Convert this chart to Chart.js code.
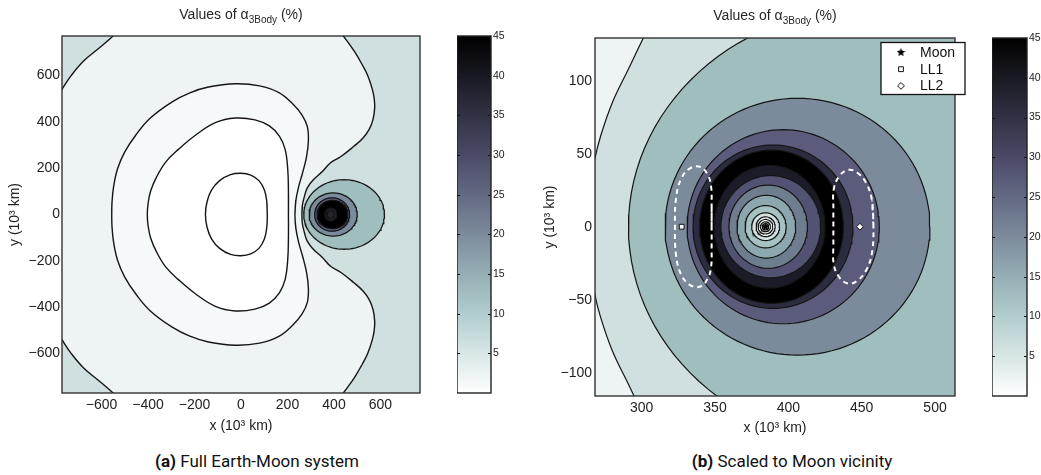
<!DOCTYPE html>
<html>
<head>
<meta charset="utf-8">
<script src="https://cdn.jsdelivr.net/npm/chart.js@4.4.0/dist/chart.umd.min.js"></script>
<style>
  html, body { margin: 0; padding: 0; background: #fff; width: 1041px; height: 475px; overflow: hidden; }
  body { position: relative; }
  canvas { position: absolute; top: 0; }
  .title { position: absolute; font-family: "Liberation Sans", Arial, sans-serif; font-size: 14px; line-height: 16px;
           color: #262626; white-space: nowrap; transform: translateX(-50%); }
  .title sub { font-size: 10px; vertical-align: -4px; line-height: 0; }
  .caption { position: absolute; font-family: Roboto, "Noto Sans", sans-serif; font-size: 17px; line-height: 17px;
             color: #111; white-space: nowrap; transform: translateX(-50%); }
</style>
</head>
<body>
<canvas id="systemMap" width="440" height="440" style="left:0px"></canvas>
<canvas id="systemBar" width="60" height="440" style="left:457px"></canvas>
<canvas id="moonMap" width="460" height="440" style="left:520px"></canvas>
<canvas id="moonBar" width="49" height="440" style="left:992px"></canvas>

<div class="title" style="left:241px;top:6px">Values of α<sub>3Body</sub> (%)</div>
<div class="title" style="left:775px;top:7px">Values of α<sub>3Body</sub> (%)</div>
<div class="caption" style="left:257px;top:453px"><b>(a)</b> Full Earth-Moon system</div>
<div class="caption" style="left:792px;top:453px"><b>(b)</b> Scaled to Moon vicinity</div>

<script>
// ---------------------------------------------------------------------------
// Tick values
const systemTicks = [-600, -400, -200, 0, 200, 400, 600];
const moonXTicks = [300, 350, 400, 450, 500];
const moonYTicks = [-100, -50, 0, 50, 100];
const barTicks = [5, 10, 15, 20, 25, 30, 35, 40, 45];

// Colour scale of alpha_3Body (%), sampled every 5 %
const barValues = [0, 5, 10, 15, 20, 25, 30, 35, 40, 45];
const barColors = ['#ffffff', '#d8e6e6', '#b1cdcd', '#95aeb5', '#7c8b9c', '#636983', '#4a4a67', '#323245', '#191922', '#000000'];

// Earth-side contours of the full system (10^3 km), upper halves, symmetric about y = 0
const earthInner = [[113, 0], [111, 55], [101, 105], [78, 145], [42, 170], [0, 178], [-45, 172], [-92, 146],
  [-127, 105], [-146, 55], [-153, 0]];
const earthMiddle = [[204, 0], [204, 100], [201, 195], [190, 280], [165, 338], [122, 382], [60, 408], [-24, 416],
  [-110, 396], [-196, 342], [-268, 282], [-324, 226], [-364, 160], [-389, 100], [-400, 45], [-403, 0]];
const earthOuter = [[232, 0], [236, 60], [248, 120], [265, 180], [282, 250], [290, 320], [285, 380], [262, 430],
  [222, 478], [163, 526], [80, 555], [-24, 564], [-140, 550], [-220, 525], [-296, 486], [-390, 416], [-453, 342],
  [-500, 270], [-531, 197], [-548, 120], [-555, 50], [-556, 0]];
const systemBoundary = [[262, 0], [264, 40], [272, 75], [285, 115], [312, 151], [350, 185], [384, 222], [430, 250],
  [484, 293], [525, 330], [552, 368], [568, 410], [575, 460], [573, 500], [565, 540], [545, 600], [522, 645],
  [490, 700], [455, 750], [432, 780], [405, 815], [370, 850], [-470, 850], [-510, 810], [-550, 770], [-610, 718],
  [-677, 662], [-730, 600], [-770, 540], [-815, 470], [-880, 300], [-900, 0]];
const systemFills = ['#ffffff', '#ffffff', '#f5f9f9', '#eef4f4'];   // inner, middle, outer, boundary
const systemBackground = '#d0e0e0';

// Moon-centred contours: [left x, right x, half height] in 10^3 km, outermost first
const moonRingsWide = [[270, 617, 150], [293, 500, 93], [317, 467, 72], [327, 460, 61]];
const moonRingsWideFills = ['#a0bebe', '#7b8b9b', '#5b5b7b', '#000000'];
const moonRingsClose = [[291, 620, 150], [316, 496.5, 88], [331, 462, 66.5], [335, 444, 56], [339.5, 437.5, 52.5],
  [349.5, 425, 42], [354, 422, 35], [359.5, 413, 28.5], [365, 405, 21.5], [370.5, 398.5, 14.5], [375, 394, 9.5],
  [378, 391, 6.8]];
const moonRingsCloseFills = ['#a0bebe', '#7b8b9b', '#5b5b7b', '#2c2c40', '#000000', '#1c1c28', '#525272', '#6e7e8e',
  '#8ca8ae', '#a6c2c2', '#d4e2e2', '#f2f6f6'];
const moonCoreRings = [[379.4, 389.4, 5], [381, 387.8, 3.4], [382.2, 386.6, 2.2]];

// Earth-side contour seen in the close view, upper half
const earthSideArc = [[262, 0], [264, 22], [268, 46], [272, 62], [280, 85], [291, 108], [302, 131], [312, 150],
  [320, 165], [150, 165], [150, 0]];
const earthSideFill = '#eef4f4';
const closeBackground = '#d0e0e0';

// Dashed orbits about the two lunar libration points, upper halves
const orbitL1 = [[347.7, 0], [347.7, 15], [347.4, 27], [345.3, 35], [340, 41], [333, 40], [327, 33], [323.5, 20], [322.7, 0]];
const orbitL2 = [[458, 0], [457, 18], [453, 30], [447, 37], [441, 39], [435, 35], [431, 26], [430.7, 12], [430.7, 0]];

// Point markers
const moonPosition = [384.4, 0];
const pointLL1 = [327.3, 0];
const pointLL2 = [448.8, 0];

// ---------------------------------------------------------------------------
const FONT = '"Liberation Sans", Arial, sans-serif';
const INK = '#222';
const LINE = '#151515';
Chart.defaults.font.family = FONT;

const signed = v => (v < 0 ? '\u2212' + Math.abs(v) : String(v));

// Close a mirrored half-outline into a loop (wrapping one extra point keeps the seam smooth)
function mirrored(half) {
  const up = half.map(([x, y]) => ({x, y}));
  const down = half.slice(1, -1).reverse().map(([x, y]) => ({x, y: -y}));
  const loop = up.concat(down);
  return loop.concat([loop[0], loop[1]]);
}

// Oval outline through the given extents
function oval([xl, xr, h]) {
  const cx = (xl + xr) / 2, a = (xr - xl) / 2, pts = [];
  for (let i = 0; i <= 120; i++) {
    const t = 2 * Math.PI * i / 120;
    pts.push({x: cx + a * Math.cos(t), y: h * Math.sin(t)});
  }
  return pts;
}

function region(points, color, width, tension) {
  return {data: points, showLine: true, fill: 'shape', backgroundColor: color, borderColor: LINE,
          borderWidth: width, pointRadius: 0, tension};
}

function outline(points, color, width, tension, dash) {
  return {data: points, showLine: true, fill: false, borderColor: color, borderWidth: width,
          pointRadius: 0, tension, borderDash: dash || []};
}

// Background and frame of a contour plot
const plotFrame = {
  id: 'plotFrame',
  beforeDatasetsDraw(chart, args, opts) {
    const {ctx, chartArea: a} = chart;
    ctx.save();
    ctx.fillStyle = opts.background;
    ctx.fillRect(a.left, a.top, a.right - a.left, a.bottom - a.top);
    ctx.restore();
  },
  afterDatasetsDraw(chart) {
    const {ctx, chartArea: a} = chart;
    ctx.save();
    ctx.strokeStyle = '#333';
    ctx.lineWidth = 1.4;
    ctx.strokeRect(a.left, a.top, a.right - a.left, a.bottom - a.top);
    ctx.restore();
  }
};

// Boxed key for the labelled marker datasets
const markerKey = {
  id: 'markerKey',
  afterDatasetsDraw(chart) {
    const {ctx, chartArea: a} = chart;
    const items = chart.data.datasets.filter(d => d.label);
    const x0 = a.right - 74, y0 = a.top + 4.5, w = 84, h = 52;
    ctx.save();
    ctx.fillStyle = '#fff';
    ctx.fillRect(x0, y0, w, h);
    ctx.strokeStyle = '#111';
    ctx.lineWidth = 1.3;
    ctx.strokeRect(x0, y0, w, h);
    ctx.font = '14px ' + FONT;
    ctx.textBaseline = 'middle';
    items.forEach((d, i) => {
      const cy = y0 + 10 + i * 16.7;
      ctx.fillStyle = d.backgroundColor;
      ctx.strokeStyle = d.borderColor;
      ctx.lineWidth = d.borderWidth;
      Chart.helpers.drawPoint(ctx, {pointStyle: d.pointStyle, radius: d.pointRadius, rotation: 0,
                                    borderWidth: d.borderWidth}, x0 + 20, cy);
      ctx.fillStyle = '#111';
      ctx.fillText(d.label, x0 + 39, cy + 0.5);
    });
    ctx.restore();
  }
};

function starMark(size) {
  const c = document.createElement('canvas');
  c.width = c.height = size;
  const g = c.getContext('2d');
  const r = size / 2, ri = r * 0.45;
  g.beginPath();
  for (let i = 0; i < 10; i++) {
    const ang = -Math.PI / 2 + i * Math.PI / 5, rr = i % 2 ? ri : r;
    g.lineTo(r + rr * Math.cos(ang), r + rr * Math.sin(ang));
  }
  g.closePath();
  g.fillStyle = '#000';
  g.fill();
  return c;
}

function contourMap(id, cfg) {
  cfg.datasets.forEach((d, i) => { d.order = -i; });
  return new Chart(document.getElementById(id), {
    type: 'scatter',
    data: {datasets: cfg.datasets},
    options: {
      responsive: false, animation: false, devicePixelRatio: 1, events: [],
      layout: {padding: {top: cfg.top, right: cfg.right, left: 0, bottom: 0}},
      elements: {point: {radius: 0}, line: {capBezierPoints: false}},
      plugins: {legend: {display: false}, tooltip: {enabled: false}, plotFrame: {background: cfg.background}},
      scales: {
        x: {
          type: 'linear', min: cfg.xRange[0], max: cfg.xRange[1],
          grid: {display: false, drawTicks: false}, border: {display: false},
          afterBuildTicks: s => { s.ticks = cfg.xTicks.map(v => ({value: v})); },
          afterFit: s => { s.height = cfg.xAxisHeight; },
          ticks: {font: {size: 14}, color: INK, padding: cfg.xTickPad, maxRotation: 0, autoSkip: false,
                  callback: signed},
          title: {display: true, text: 'x (10³ km)', font: {size: 14}, color: INK,
                  padding: {top: 0, bottom: cfg.xTitlePad}}
        },
        y: {
          type: 'linear', min: cfg.yRange[0], max: cfg.yRange[1],
          grid: {display: false, drawTicks: false}, border: {display: false},
          afterBuildTicks: s => { s.ticks = cfg.yTicks.map(v => ({value: v})); },
          afterFit: s => { s.width = cfg.yAxisWidth; },
          ticks: {font: {size: 14}, color: INK, padding: cfg.yTickPad, autoSkip: false, callback: signed},
          title: {display: true, text: 'y (10³ km)', font: {size: 14}, color: INK,
                  padding: {top: cfg.yTitlePad, bottom: 0}}
        }
      }
    },
    plugins: cfg.plugins
  });
}

// Colour bar: one floating bar spanning the scale, painted with the colour map
const barFrame = {
  id: 'barFrame',
  afterDatasetsDraw(chart) {
    const {ctx, chartArea: a, scales: {y}} = chart;
    ctx.save();
    ctx.strokeStyle = '#111';
    ctx.lineWidth = 1.2;
    barTicks.forEach(v => {
      const py = Math.round(y.getPixelForValue(v)) + 0.5;
      ctx.beginPath();
      ctx.moveTo(a.left, py); ctx.lineTo(a.left + 3, py);
      ctx.moveTo(a.right - 3, py); ctx.lineTo(a.right, py);
      ctx.stroke();
    });
    ctx.lineWidth = 1.4;
    ctx.strokeStyle = '#222';
    ctx.strokeRect(a.left, a.top, a.right - a.left, a.bottom - a.top);
    ctx.restore();
  }
};

function colorBar(id, top, bottom, axisWidth) {
  return new Chart(document.getElementById(id), {
    type: 'bar',
    data: {
      labels: [''],
      datasets: [{
        data: [[barValues[0], barValues[barValues.length - 1]]],
        barPercentage: 1, categoryPercentage: 1, borderWidth: 0, inflateAmount: 0,
        backgroundColor: ctx => {
          const chart = ctx.chart;
          if (!chart.chartArea) return barColors[0];
          const y = chart.scales.y;
          const y0 = y.getPixelForValue(barValues[0]), y1 = y.getPixelForValue(barValues[barValues.length - 1]);
          const g = chart.ctx.createLinearGradient(0, y0, 0, y1);
          barValues.forEach((v, i) => g.addColorStop((v - barValues[0]) / (barValues[barValues.length - 1] - barValues[0]), barColors[i]));
          return g;
        }
      }]
    },
    options: {
      responsive: false, animation: false, devicePixelRatio: 1, events: [],
      layout: {padding: {top, bottom, left: 0, right: 0}},
      plugins: {legend: {display: false}, tooltip: {enabled: false}},
      scales: {
        x: {display: false},
        y: {
          position: 'right', min: 0, max: 45,
          grid: {display: false, drawTicks: false}, border: {display: false},
          afterBuildTicks: s => { s.ticks = barTicks.map(v => ({value: v})); },
          afterFit: s => { s.width = axisWidth; },
          ticks: {font: {size: 10.5}, color: INK, padding: 2, autoSkip: false}
        }
      }
    },
    plugins: [barFrame]
  });
}

// ---------------------------------------------------------------------------
// (a) Full Earth-Moon system
const systemSets = [
  region(mirrored(systemBoundary), systemFills[3], 1.4, 0.4),
  region(mirrored(earthOuter), systemFills[2], 1.4, 0.4),
  region(mirrored(earthMiddle), systemFills[1], 1.4, 0.4),
  region(mirrored(earthInner), systemFills[0], 1.4, 0.4)
];
moonRingsWide.forEach((r, i) => systemSets.push(region(oval(r), moonRingsWideFills[i], 1.3, 0)));
moonRingsClose.slice(7, 10).forEach((r, i) => systemSets.push(region(oval(r), '#26262e', 0.8, 0)));

contourMap('systemMap', {
  datasets: systemSets, background: systemBackground,
  xRange: [-770, 770], yRange: [-770, 770], xTicks: systemTicks, yTicks: systemTicks,
  top: 36, right: 20, xAxisHeight: 47, yAxisWidth: 62,
  xTickPad: 4, yTickPad: 2, xTitlePad: 5.6, yTitlePad: 6.6,
  plugins: [plotFrame]
});
colorBar('systemBar', 36, 47, 26);

// (b) Close view around the Moon
const closeSets = [region(mirrored(earthSideArc), earthSideFill, 1.2, 0.4)];
moonRingsClose.forEach((r, i) => closeSets.push(region(oval(r), moonRingsCloseFills[i], 1.2, 0)));
moonCoreRings.forEach(r => closeSets.push(outline(oval(r), LINE, 1.1, 0)));
closeSets.push(outline(mirrored(orbitL1), '#ffffff', 2, 0.4, [5, 4]));
closeSets.push(outline(mirrored(orbitL2), '#ffffff', 2, 0.4, [5, 4]));
closeSets.push({label: 'Moon', data: [{x: moonPosition[0], y: moonPosition[1]}], pointStyle: starMark(9),
                pointRadius: 4.5, backgroundColor: '#000', borderColor: '#000', borderWidth: 1});
closeSets.push({label: 'LL1', data: [{x: pointLL1[0], y: pointLL1[1]}], pointStyle: 'rect',
                pointRadius: 3.4, backgroundColor: '#fff', borderColor: '#111', borderWidth: 1});
closeSets.push({label: 'LL2', data: [{x: pointLL2[0], y: pointLL2[1]}], pointStyle: 'rectRot',
                pointRadius: 3.4, backgroundColor: '#fff', borderColor: '#111', borderWidth: 1});

contourMap('moonMap', {
  datasets: closeSets, background: closeBackground,
  xRange: [268.2, 513.6], yRange: [-116, 129.3], xTicks: moonXTicks, yTicks: moonYTicks,
  top: 38, right: 25, xAxisHeight: 44, yAxisWidth: 75,
  xTickPad: 3.5, yTickPad: 3, xTitlePad: 3.6, yTitlePad: 21.6,
  plugins: [plotFrame, markerKey]
});
colorBar('moonBar', 38, 44, 14);
</script>
</body>
</html>
